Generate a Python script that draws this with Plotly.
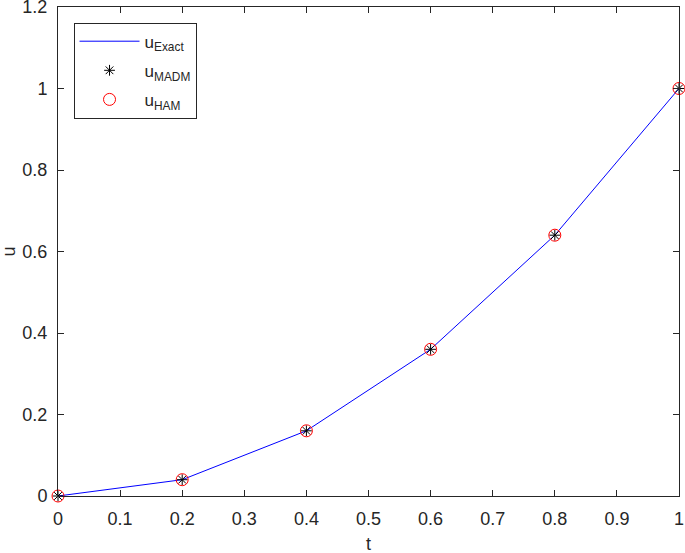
import plotly.graph_objects as go

t = [0, 0.2, 0.4, 0.6, 0.8, 1.0]
u_exact = [0, 0.04, 0.16, 0.36, 0.64, 1.0]
u_madm = [0, 0.04, 0.16, 0.36, 0.64, 1.0]
u_ham = [0, 0.04, 0.16, 0.36, 0.64, 1.0]

x_ticks = [0, 0.1, 0.2, 0.3, 0.4, 0.5, 0.6, 0.7, 0.8, 0.9, 1]
y_ticks = [0, 0.2, 0.4, 0.6, 0.8, 1, 1.2]

fig = go.Figure()
fig.add_trace(go.Scatter(x=t, y=u_exact, mode='lines', name='u<sub>Exact</sub>',
                         legendgroup='a', cliponaxis=False,
                         line=dict(color='#0000ff', width=1)))
fig.add_trace(go.Scatter(x=t, y=u_madm, mode='markers', name='u<sub>MADM</sub>',
                         legendgroup='b', cliponaxis=False,
                         marker=dict(symbol='asterisk-open', size=9, color='black',
                                     line=dict(color='black', width=1))))
fig.add_trace(go.Scatter(x=t, y=u_ham, mode='markers', name='u<sub>HAM</sub>',
                         legendgroup='c', cliponaxis=False,
                         marker=dict(symbol='circle-open', size=12, color='red',
                                     line=dict(color='red', width=1))))

axis_style = dict(showline=True, linecolor='#262626', linewidth=1, mirror='ticks',
                  ticks='inside', ticklen=6, tickcolor='#262626', showgrid=False,
                  zeroline=False, automargin=False, ticklabeloverflow='allow',
                  tickfont=dict(size=18, color='#262626'))

fig.update_layout(
    width=685, height=553,
    margin=dict(l=58, r=6, t=7, b=57),
    paper_bgcolor='white', plot_bgcolor='white',
    font=dict(family='Liberation Sans, Arial', color='#262626', size=18),
    xaxis=dict(range=[0, 1.000001], tickvals=x_ticks, ticktext=[str(v) for v in x_ticks],
               ticklabelstandoff=6, **axis_style),
    yaxis=dict(range=[0, 1.200001], tickvals=y_ticks, ticktext=[str(v) for v in y_ticks],
               ticklabelstandoff=6, **axis_style),
    legend=dict(x=0.025, y=0.968, xanchor='left', yanchor='top',
                bordercolor='#262626', borderwidth=1, bgcolor='white',
                font=dict(size=17), itemwidth=60, tracegroupgap=4,
                traceorder='grouped'),
    showlegend=True,
    annotations=[
        dict(text='t', xref='paper', yref='paper', x=0.5, y=0, yshift=-48,
             xanchor='center', yanchor='middle', showarrow=False, font=dict(size=18)),
        dict(text='u', xref='paper', yref='paper', x=0, y=0.5, xshift=-50,
             xanchor='center', yanchor='middle', showarrow=False, textangle=-90,
             font=dict(size=18)),
    ],
)

fig.write_html("out.html", config={'displayModeBar': False},
               post_script="document.body.style.margin='0';")
